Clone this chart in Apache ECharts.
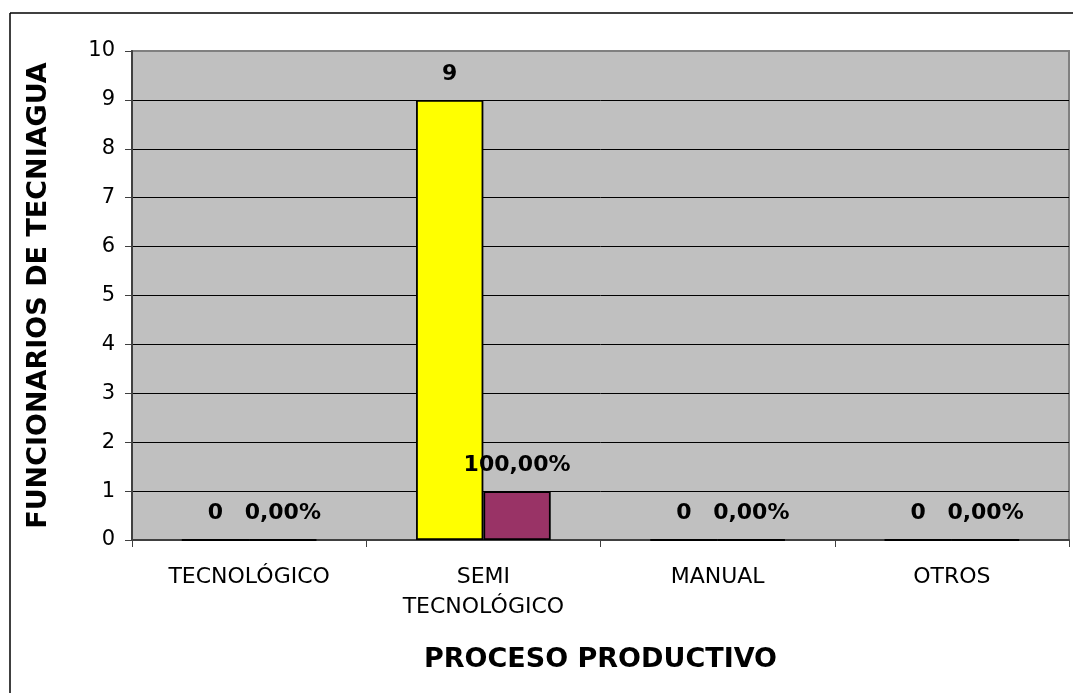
<!DOCTYPE html>
<html>
<head>
<meta charset="utf-8">
<script src="https://cdn.jsdelivr.net/npm/echarts@6/dist/echarts.min.js"></script>
<style>
html,body{margin:0;padding:0;background:#fff;}
#chart{width:1073px;height:693px;}
</style>
</head>
<body>
<div id="chart"></div>
<script>
const categories = ['TECNOLÓGICO', 'SEMI\nTECNOLÓGICO', 'MANUAL', 'OTROS'];
const counts = [0, 9, 0, 0];
const percents = [0, 1, 0, 0]; // fraction: 1 = 100,00%
const yTicks = [0, 10, 1]; // min, max, interval
const xTitle = 'PROCESO PRODUCTIVO';
const yTitle = 'FUNCIONARIOS DE TECNIAGUA';

const FONT = 'DejaVu Sans';
const chart = echarts.init(document.getElementById('chart'));

const splitColors = [];
for (let v = yTicks[0]; v <= yTicks[1]; v += yTicks[2]) splitColors.push(v === yTicks[1] ? '#808080' : '#000000');

const labelStyle = {
  show: true, position: 'top', distance: 15,
  fontFamily: FONT, fontWeight: 'bold', fontSize: 22, color: '#000'
};

chart.setOption({
  animation: false,
  backgroundColor: '#ffffff',
  graphic: [
    { type: 'line', shape: { x1: 10, y1: 13, x2: 1073, y2: 13 }, style: { stroke: '#000', lineWidth: 1.5 } },
    { type: 'line', shape: { x1: 10, y1: 13, x2: 10, y2: 693 }, style: { stroke: '#000', lineWidth: 1.5 } }
  ],
  grid: {
    left: 132, right: 4, top: 51, bottom: 153,
    show: true, backgroundColor: '#C0C0C0', borderColor: '#808080', borderWidth: 2
  },
  xAxis: {
    type: 'category',
    data: categories,
    name: xTitle,
    nameLocation: 'middle',
    nameGap: 106,
    nameTextStyle: { fontFamily: FONT, fontWeight: 'bold', fontSize: 27, color: '#000' },
    axisLine: { show: true, lineStyle: { color: '#404040', width: 2 } },
    axisTick: { show: true, alignWithLabel: false, length: 7, lineStyle: { color: '#404040', width: 1 } },
    axisLabel: { fontFamily: FONT, fontSize: 22, color: '#000', margin: 22, lineHeight: 30 },
    splitLine: { show: false }
  },
  yAxis: {
    type: 'value',
    min: yTicks[0], max: yTicks[1], interval: yTicks[2],
    name: yTitle,
    nameLocation: 'middle',
    nameRotate: 90,
    nameGap: 80,
    nameTextStyle: { fontFamily: FONT, fontWeight: 'bold', fontSize: 27, color: '#000' },
    axisLine: { show: true, lineStyle: { color: '#404040', width: 2 } },
    axisTick: { show: true, length: 7, lineStyle: { color: '#404040', width: 1 } },
    axisLabel: { fontFamily: FONT, fontSize: 21, color: '#000', margin: 17 },
    splitLine: { show: true, lineStyle: { color: splitColors, width: 1 } }
  },
  series: [
    {
      type: 'bar',
      data: counts,
      barGap: '0%',
      barCategoryGap: '42.5%',
      itemStyle: { color: '#FFFF00', borderColor: '#000', borderWidth: 1.8 },
      label: Object.assign({}, labelStyle, { formatter: p => String(p.value) })
    },
    {
      type: 'bar',
      data: percents,
      itemStyle: { color: '#993366', borderColor: '#000', borderWidth: 1.8 },
      label: Object.assign({}, labelStyle, {
        formatter: p => (p.value * 100).toFixed(2).replace('.', ',') + '%'
      })
    }
  ]
});
</script>
</body>
</html>
